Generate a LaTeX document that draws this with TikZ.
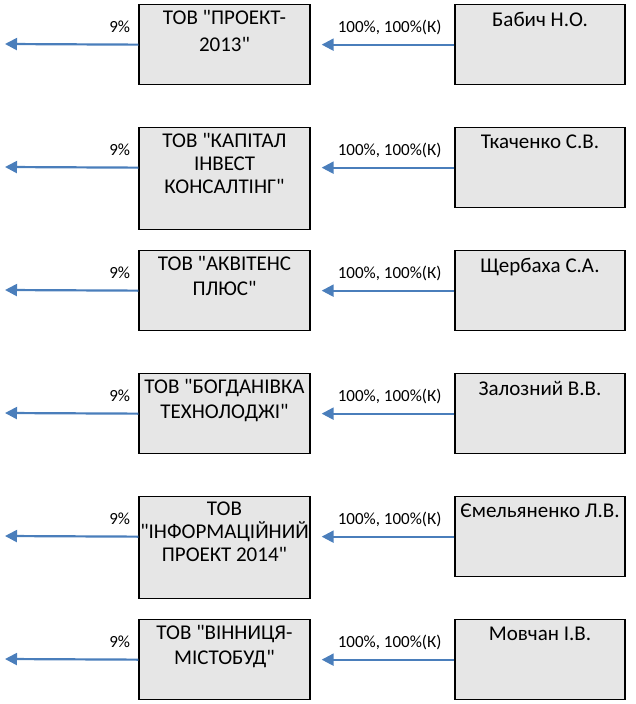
\documentclass[tikz,border=0pt]{standalone}
\usepackage{fontspec}
\setmainfont{Carlito}
\usepackage{xcolor}
\usetikzlibrary{arrows.meta}

\definecolor{arrblue}{RGB}{74,126,187}
\definecolor{boxgray}{RGB}{230,230,230}

\tikzset{
  box/.style={draw=black, line width=1.3pt, fill=boxgray, minimum width=171pt,
    minimum height=80pt, anchor=north, inner sep=0pt},
  tall/.style={minimum height=102pt},
  firm/.style={anchor=north, align=center, inner sep=0pt, yshift=-6pt,
    font=\fontsize{21}{24}\selectfont},
  person/.style={anchor=north, inner sep=0pt, yshift=-8pt,
    font=\fontsize{21}{24}\selectfont},
  arr/.style={draw=arrblue, line width=2.2pt, -{Triangle[length=12pt,width=12pt]}},
  share/.style={anchor=base, yshift=12pt, inner sep=0pt,
    font=\fontsize{17}{20}\selectfont}
}

\begin{document}
\begin{tikzpicture}[x=1pt, y=-1pt]
            \useasboundingbox (0,0) rectangle (636,704);

            %% row 1
            \node[box, label={[firm, font=\fontsize{21}{27}\selectfont]north:ТОВ \textquotedbl ПРОЕКТ-\\2013\textquotedbl}] (a1) at (224.5,4) {};
            \node[box, minimum width=170pt, label={[person]north:Бабич Н.О.}] (b1) at (540,4) {};
            \coordinate (o1) at (5,44);
            \draw[arr] (a1.west |- b1.west) -- (o1) node[share, pos=0.14] {9\%};
            \draw[arr, shorten >=11pt] (b1.west) -- (a1.east |- b1.west) node[share, pos=0.45] {100\%, 100\%(К)};

            %% row 2
            \node[box, tall, label={[firm, font=\fontsize{21}{23}\selectfont]north:ТОВ \textquotedbl КАПІТАЛ\\ІНВЕСТ\\КОНСАЛТІНГ\textquotedbl}] (a2) at (224.5,127) {};
            \node[box, minimum width=170pt, label={[person]north:Ткаченко С.В.}] (b2) at (540,127) {};
            \coordinate (o2) at (5,167);
            \draw[arr] (a2.west |- b2.west) -- (o2) node[share, pos=0.14] {9\%};
            \draw[arr, shorten >=11pt] (b2.west) -- (a2.east |- b2.west) node[share, pos=0.45] {100\%, 100\%(К)};

            %% row 3
            \node[box, label={[firm, font=\fontsize{21}{25}\selectfont]north:ТОВ \textquotedbl АКВІТЕНС\\ПЛЮС\textquotedbl}] (a3) at (224.5,250) {};
            \node[box, minimum width=170pt, label={[person]north:Щербаха С.А.}] (b3) at (540,250) {};
            \coordinate (o3) at (5,290);
            \draw[arr] (a3.west |- b3.west) -- (o3) node[share, pos=0.14] {9\%};
            \draw[arr, shorten >=11pt] (b3.west) -- (a3.east |- b3.west) node[share, pos=0.45] {100\%, 100\%(К)};

            %% row 4
            \node[box, label={[firm, font=\fontsize{21}{25}\selectfont]north:ТОВ \textquotedbl БОГДАНІВКА\\ТЕХНОЛОДЖІ\textquotedbl}] (a4) at (224.5,373) {};
            \node[box, minimum width=170pt, label={[person]north:Залозний В.В.}] (b4) at (540,373) {};
            \coordinate (o4) at (5,413);
            \draw[arr] (a4.west |- b4.west) -- (o4) node[share, pos=0.14] {9\%};
            \draw[arr, shorten >=11pt] (b4.west) -- (a4.east |- b4.west) node[share, pos=0.45] {100\%, 100\%(К)};

            %% row 5
            \node[box, tall, label={[firm, font=\fontsize{21}{23}\selectfont]north:ТОВ\\\textquotedbl ІНФОРМАЦІЙНИЙ\\ПРОЕКТ 2014\textquotedbl}] (a5) at (224.5,496) {};
            \node[box, minimum width=170pt, label={[person]north:Ємельяненко Л.В.}] (b5) at (540,496) {};
            \coordinate (o5) at (5,536);
            \draw[arr] (a5.west |- b5.west) -- (o5) node[share, pos=0.14] {9\%};
            \draw[arr, shorten >=11pt] (b5.west) -- (a5.east |- b5.west) node[share, pos=0.45] {100\%, 100\%(К)};

            %% row 6
            \node[box, label={[firm, font=\fontsize{21}{25}\selectfont]north:ТОВ \textquotedbl ВІННИЦЯ-\\МІСТОБУД\textquotedbl}] (a6) at (224.5,619) {};
            \node[box, minimum width=170pt, label={[person]north:Мовчан І.В.}] (b6) at (540,619) {};
            \coordinate (o6) at (5,659);
            \draw[arr] (a6.west |- b6.west) -- (o6) node[share, pos=0.14] {9\%};
            \draw[arr, shorten >=11pt] (b6.west) -- (a6.east |- b6.west) node[share, pos=0.45] {100\%, 100\%(К)};

        \end{tikzpicture}
\end{document}
